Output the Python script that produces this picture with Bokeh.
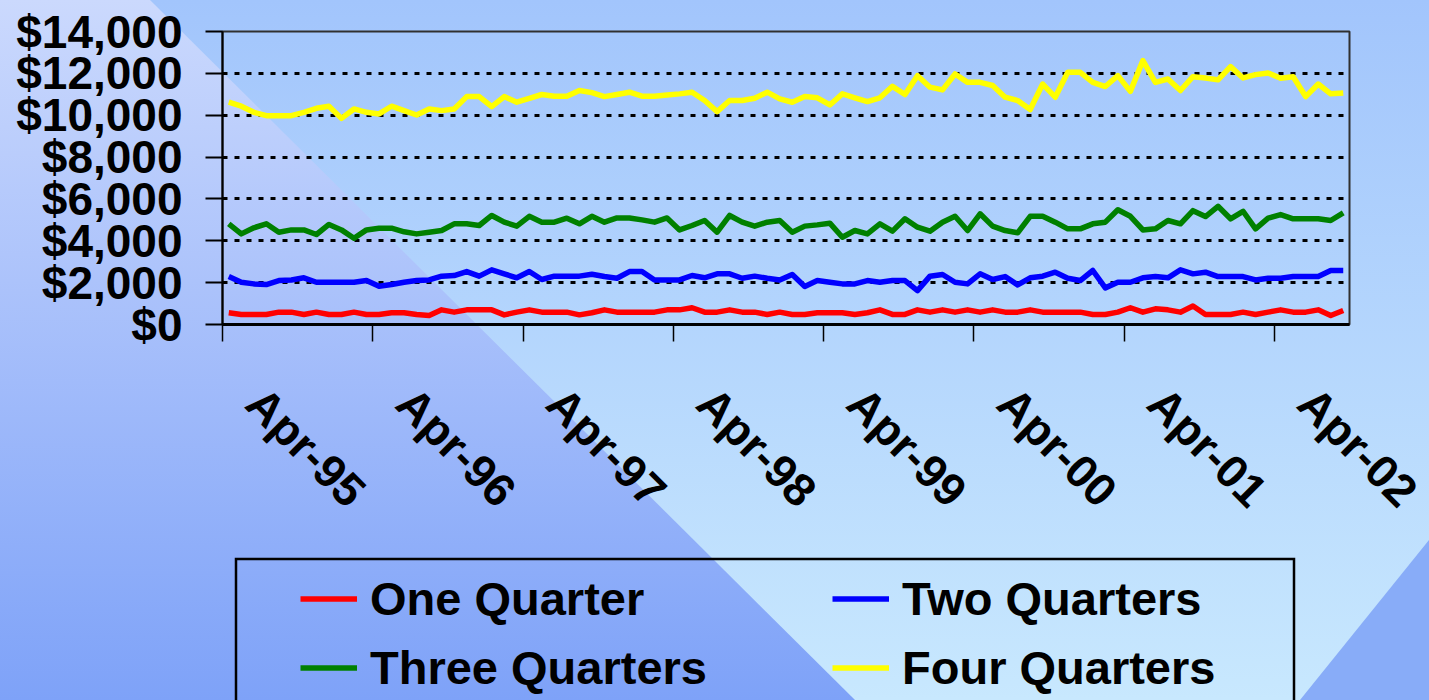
import math
import urllib.parse
import pandas as pd
from bokeh.plotting import figure
from bokeh.layouts import column
from bokeh.models import (Range1d, FixedTicker, NumeralTickFormatter, Legend, LegendItem,
                          LinearAxis)
from bokeh.embed import file_html
from bokeh.resources import INLINE

# ---------------- data ----------------
months = list(pd.date_range("1995-04-01", periods=90, freq="MS").strftime("%b-%y"))

one_quarter = [560, 480, 480, 480, 590, 590, 480, 590, 480, 480, 590, 480, 480, 560, 560,
               480, 430, 700, 590, 700, 700, 700, 460, 590, 700, 590, 590, 590, 460, 560,
               700, 590, 590, 590, 590, 700, 700, 800, 590, 590, 700, 590, 590, 480, 590,
               480, 480, 560, 560, 560, 480, 560, 700, 480, 480, 700, 590, 700, 590,
               700, 590, 700, 590, 590, 700, 590, 590, 590, 590, 480, 480, 590, 800, 590,
               750, 700, 590, 880, 480, 480, 480, 590, 480, 590, 700, 590, 590, 700, 430, 670]

two_quarters = [2290, 2020, 1940, 1910, 2100, 2130, 2230, 2020, 2020, 2020, 2020, 2100, 1830, 1910, 2020,
                2100, 2130, 2310, 2340, 2530, 2310, 2610, 2420, 2230, 2530, 2150, 2310, 2310, 2310, 2400,
                2290, 2210, 2530, 2530, 2130, 2130, 2130, 2340, 2230, 2420, 2420, 2210, 2310, 2210, 2130,
                2390, 1820, 2100, 2020, 1940, 1940, 2100, 2020, 2100, 2100, 1620, 2310, 2390, 2020,
                1940, 2420, 2150, 2290, 1890, 2230, 2310, 2500, 2210, 2100, 2580, 1750, 2020, 2020, 2230,
                2290, 2230, 2610, 2420, 2500, 2290, 2290, 2290, 2130, 2210, 2210, 2290, 2290, 2290, 2580, 2580]

three_quarters = [4810, 4330, 4620, 4810, 4410, 4520, 4520, 4300, 4780, 4520, 4120, 4520, 4600, 4600, 4430,
                  4330, 4410, 4490, 4810, 4810, 4730, 5210, 4890, 4700, 5170, 4890, 4890, 5080, 4810, 5170,
                  4890, 5090, 5090, 5000, 4890, 5090, 4520, 4730, 4970, 4410, 5210, 4890, 4700, 4890, 4970,
                  4410, 4700, 4760, 4840, 4170, 4490, 4330, 4810, 4460, 5050, 4650, 4460, 4890, 5170,
                  4490, 5290, 4700, 4490, 4380, 5170, 5170, 4890, 4570, 4570, 4810, 4890, 5480, 5170, 4520,
                  4570, 4970, 4810, 5440, 5160, 5650, 5050, 5410, 4570, 5080, 5250, 5050, 5050, 5050, 4970, 5330]

four_quarters = [10620, 10430, 10140, 9980, 9980, 9980, 10140, 10330, 10430, 9850, 10300, 10140, 10060, 10430, 10220,
                 10010, 10300, 10220, 10300, 10890, 10890, 10410, 10890, 10620, 10810, 10990, 10910, 10910, 11180, 11080,
                 10890, 10990, 11100, 10910, 10910, 10970, 11020, 11100, 10700, 10170, 10700, 10700, 10810, 11100, 10780,
                 10620, 10890, 10830, 10490, 11020, 10830, 10650, 10830, 11380, 10990, 11890, 11340, 11210, 11970,
                 11570, 11570, 11420, 10860, 10700, 10270, 11490, 10860, 12050, 12050, 11570, 11370, 11890, 11140, 12610,
                 11570, 11730, 11180, 11840, 11780, 11690, 12320, 11780, 11940, 12020, 11770, 11840, 10890, 11490, 11020, 11060]

series_names = ["One Quarter", "Two Quarters", "Three Quarters", "Four Quarters"]
series_values = [one_quarter, two_quarters, three_quarters, four_quarters]
series_colors = ["#ff0000", "#0000ff", "#008000", "#ffff00"]

y_ticks = [0, 2000, 4000, 6000, 8000, 10000, 12000, 14000]

# ---------------- page background (decorative slide backdrop) ----------------
W = 1429
H1, H2 = 545, 155
FONT = "Liberation Sans"
LW = 5.5

bg_svg = (
    "<svg xmlns='http://www.w3.org/2000/svg' width='1429' height='700' viewBox='0 0 1429 700'>"
    "<defs>"
    "<linearGradient id='gl' gradientUnits='userSpaceOnUse' x1='0' y1='0' x2='0' y2='700'>"
    "<stop offset='0' stop-color='#cbd9fd'/><stop offset='1' stop-color='#7ea2f8'/></linearGradient>"
    "<linearGradient id='gr' gradientUnits='userSpaceOnUse' x1='0' y1='0' x2='0' y2='700'>"
    "<stop offset='0' stop-color='#a2c5fc'/><stop offset='1' stop-color='#c8e8fe'/></linearGradient>"
    "</defs>"
    "<rect x='0' y='0' width='1429' height='700' fill='url(#gr)'/>"
    "<polygon points='0,0 150,0 855,700 0,700' fill='url(#gl)'/>"
    "<polygon points='1300,700 1429,540 1429,700' fill='#88acf8'/>"
    "<rect x='236' y='559' width='1058' height='200' fill='none' stroke='#000' stroke-width='2.5'/>"
    "</svg>"
)
bg_css = 'url("data:image/svg+xml,' + urllib.parse.quote(bg_svg) + '")'

def bg_style(offset_y):
    return {"background-image": bg_css, "background-size": "1429px 700px",
            "background-repeat": "no-repeat", "background-position": "0px %dpx" % (-offset_y)}

# ---------------- chart figure ----------------
p = figure(width=W, height=H1, x_range=Range1d(0, len(months)), y_range=Range1d(0, 14000),
           output_backend="svg", toolbar_location=None,
           min_border_left=222, min_border_right=80, min_border_top=31, min_border_bottom=H1 - 324,
           styles=bg_style(0))
p.background_fill_alpha = 0
p.border_fill_alpha = 0
p.outline_line_color = "#303030"
p.outline_line_width = 2

xs = [i + 0.5 for i in range(len(months))]
renderers = []
for name, vals, col in zip(series_names, series_values, series_colors):
    r = p.line(xs, vals, line_color=col, line_width=LW, line_join="round")
    renderers.append(r)

april_ticks = list(range(0, len(months), 12))

xa = p.xaxis[0]
xa.ticker = FixedTicker(ticks=april_ticks, minor_ticks=[])
xa.major_label_overrides = {i: "" for i in april_ticks}
xa.major_label_text_font_size = "0px"
xa.major_label_standoff = 0
xa.axis_line_color = "black"
xa.axis_line_width = 3
xa.major_tick_line_color = "black"
xa.major_tick_line_width = 1.5
xa.major_tick_in = 0
xa.major_tick_out = 17
xa.minor_tick_line_color = None

# slanted tick labels sit a little right of their tick marks, as in the original
p.extra_x_ranges = {"labels": Range1d(-2.56, len(months) - 2.56)}
xl = LinearAxis(x_range_name="labels",
                ticker=FixedTicker(ticks=april_ticks, minor_ticks=[]),
                major_label_overrides={i: months[i] for i in april_ticks})
xl.major_label_orientation = -math.pi / 4
xl.major_label_text_font = FONT
xl.major_label_text_font_style = "bold"
xl.major_label_text_font_size = "46px"
xl.major_label_text_color = "black"
xl.major_label_standoff = 54
xl.axis_line_color = None
xl.major_tick_line_color = None
xl.minor_tick_line_color = None
xl.major_tick_in = 0
xl.major_tick_out = 0
p.add_layout(xl, "below")

ya = p.yaxis[0]
ya.ticker = FixedTicker(ticks=y_ticks, minor_ticks=[])
ya.formatter = NumeralTickFormatter(format="$0,0")
ya.major_label_text_font = FONT
ya.major_label_text_font_style = "bold"
ya.major_label_text_font_size = "46px"
ya.major_label_text_color = "black"
ya.major_label_standoff = 23
ya.axis_line_color = "black"
ya.axis_line_width = 2
ya.major_tick_line_color = "black"
ya.major_tick_line_width = 2
ya.major_tick_in = 0
ya.major_tick_out = 17
ya.minor_tick_line_color = None

p.xgrid.visible = False
p.ygrid.grid_line_color = "black"
p.ygrid.grid_line_width = 2.8
p.ygrid.grid_line_dash = "5 7"

# ---------------- legend strip ----------------
# (its frame is aligned with the chart frame by the column layout: x from 222 to 1349)
q = figure(width=W, height=H2, x_range=Range1d(0, len(months)), y_range=Range1d(0, 1),
           output_backend="svg", toolbar_location=None, min_border=0,
           x_axis_location=None, y_axis_location=None, styles=bg_style(H1))
q.background_fill_alpha = 0
q.border_fill_alpha = 0
q.outline_line_color = None
q.xgrid.visible = False
q.ygrid.visible = False

# legend keys: the same series, lying outside this strip's visible y range
keys = [q.line(xs, vals, line_color=col, line_width=LW)
        for vals, col in zip(series_values, series_colors)]

def make_legend(idx, loc):
    lg = Legend(items=[LegendItem(label=series_names[i], renderers=[keys[i]]) for i in idx],
                location=loc, orientation="vertical")
    lg.background_fill_alpha = 0
    lg.border_line_alpha = 0
    lg.padding = 0
    lg.margin = 0
    lg.spacing = 14
    lg.glyph_width = 57
    lg.glyph_height = 55
    lg.label_height = 55
    lg.label_standoff = 13
    lg.label_text_font = FONT
    lg.label_text_font_style = "bold"
    lg.label_text_font_size = "47px"
    lg.label_text_color = "black"
    return lg

q.add_layout(make_legend([0, 2], (78, 5.5)), "center")
q.add_layout(make_legend([1, 3], (610, 5.5)), "center")

layout = column(p, q, spacing=0)
open("out.html", "w").write(file_html(layout, INLINE))
